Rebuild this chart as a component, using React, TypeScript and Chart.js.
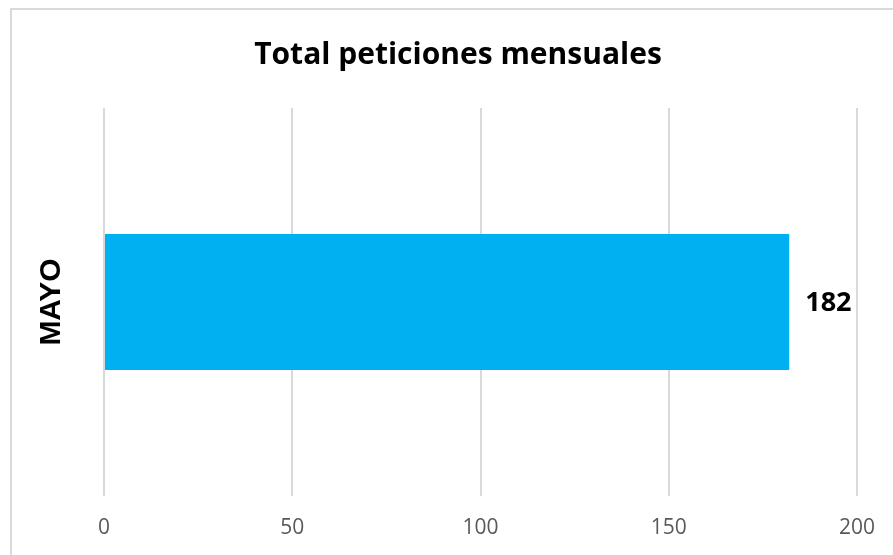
import React, { useEffect, useRef } from "react";
import { Chart, registerables } from "chart.js";

Chart.register(...registerables);

const categories = ["MAYO"];
const values = [182];
const xMin = 0;
const xMax = 200;
const xStep = 50;
const title = "Total peticiones mensuales";

const labelPlugin = {
  id: "customLabels",
  afterDraw(chart: any) {
    const ctx = chart.ctx;
    const yScale = chart.scales.y;
    ctx.save();
    ctx.font = "bold 30px 'Liberation Sans', Arial, sans-serif";
    ctx.fillStyle = "#000000";
    ctx.textAlign = "center";
    ctx.textBaseline = "middle";
    yScale.ticks.forEach((t: any, i: number) => {
      const y = yScale.getPixelForTick(i);
      const label = yScale.getLabelForValue(t.value);
      ctx.save();
      ctx.translate(39, y);
      ctx.rotate(-Math.PI / 2);
      ctx.fillText(label, 0, 1);
      ctx.restore();
    });
    ctx.font = "bold 27px 'Open Sans', sans-serif";
    ctx.textAlign = "left";
    ctx.textBaseline = "middle";
    const meta = chart.getDatasetMeta(0);
    meta.data.forEach((el: any, i: number) => {
      ctx.fillText(String(values[i]), el.x + 16, el.y + 1);
    });
    ctx.restore();
  },
};

export default function App() {
  const ref = useRef<HTMLCanvasElement | null>(null);
  useEffect(() => {
    if (!ref.current) return;
    const chart = new Chart(ref.current, {
      type: "bar",
      data: {
        labels: categories,
        datasets: [
          {
            data: values,
            backgroundColor: "#00B0F0",
            borderWidth: 0,
            barPercentage: 0.35,
            categoryPercentage: 1,
          },
        ],
      },
      options: {
        indexAxis: "y",
        responsive: false,
        animation: false,
        layout: { padding: 0 },
        plugins: {
          legend: { display: false },
          tooltip: { enabled: false },
          title: {
            display: true,
            text: title,
            color: "#000000",
            font: { family: "'Open Sans', sans-serif", size: 30, weight: "bold" },
            padding: { top: 27, bottom: 35 },
          },
        },
        scales: {
          x: {
            min: xMin,
            max: xMax,
            ticks: {
              stepSize: xStep,
              color: "#595959",
              font: { family: "'Open Sans', sans-serif", size: 21 },
              padding: 19,
            },
            grid: { color: "#d9d9d9", lineWidth: 2, drawTicks: false },
            border: { display: false },
            afterFit: (s: any) => {
              s.height = 74;
            },
          },
          y: {
            ticks: { display: false },
            grid: { display: false },
            border: { display: false },
            afterFit: (s: any) => {
              s.width = 92;
            },
          },
          yRight: {
            type: "linear",
            position: "right",
            display: true,
            ticks: { display: false },
            grid: { display: false },
            border: { display: false },
            afterFit: (s: any) => {
              s.width = 47;
            },
          },
        },
      },
      plugins: [labelPlugin],
    });
    return () => chart.destroy();
  }, []);

  return (
    <div
      style={{
        position: "fixed",
        left: 0,
        top: 0,
        width: 893,
        height: 555,
        overflow: "hidden",
        background: "#ffffff",
      }}
    >
      <div
        style={{
          position: "absolute",
          left: 10,
          top: 8,
          width: 900,
          height: 600,
          border: "2px solid #d9d9d9",
        }}
      >
        <canvas
          ref={ref}
          width={892}
          height={560}
          style={{ position: "absolute", left: 0, top: 0, width: 892, height: 560 }}
        />
      </div>
    </div>
  );
}
